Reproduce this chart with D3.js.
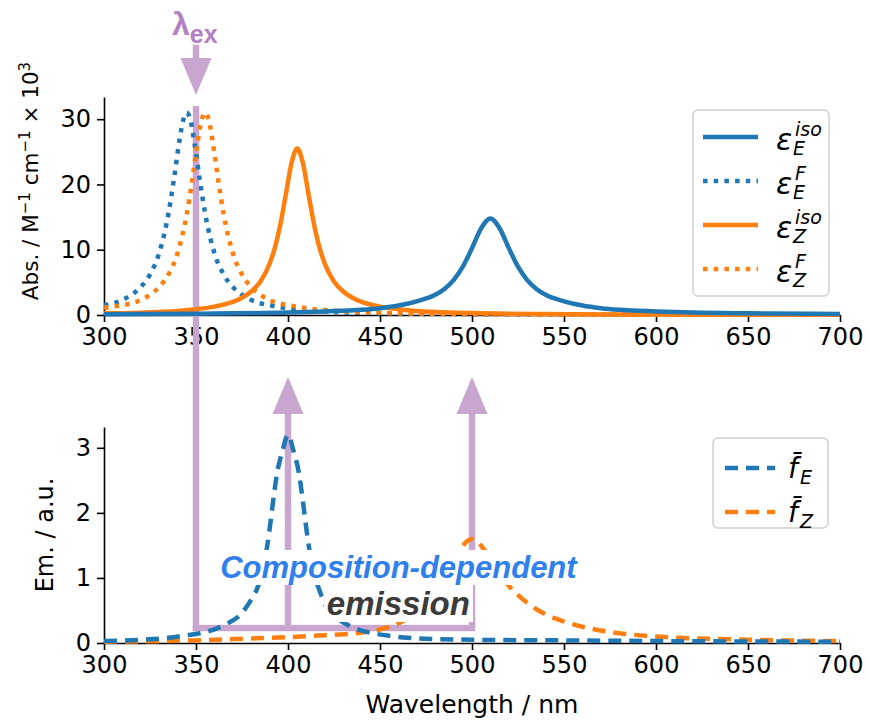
<!DOCTYPE html>
<html lang="en">
<head>
<meta charset="utf-8">
<title>Absorption and emission spectra</title>
<script src="https://d3js.org/d3.v7.min.js"></script>
<style>
    body { margin: 0; background: #fff; }
    svg text { font-family: "DejaVu Sans", sans-serif; fill: #000; }
    .note { font-family: "Liberation Sans", Arial, sans-serif; font-weight: bold; font-style: italic; }
</style>
</head>
<body>
<div id="chart"></div>
<script>
const w = 869;
const h = 721;

// ---- data ----
const xTicks = [300, 350, 400, 450, 500, 550, 600, 650, 700];
const absTicks = [0, 10, 20, 30];
const emTicks = [0, 1, 2, 3];

// absorption (M^-1 cm^-1 x 10^3)
const nmEIso = [300, 350, 400, 420, 440, 450, 460, 470, 480, 485, 490, 495, 500, 505, 510, 515, 520, 525, 530, 535, 540, 550, 560, 570, 580, 600, 620, 650, 700];
const absEIso = [0.12, 0.2, 0.38, 0.55, 0.8, 1.05, 1.45, 2.1, 3.1, 4.0, 5.35, 7.4, 10.25, 13.3, 14.8, 13.3, 10.25, 7.4, 5.35, 4.0, 3.1, 2.1, 1.45, 1.05, 0.8, 0.55, 0.38, 0.26, 0.15];

const nmEF = [300, 305, 310, 315, 320, 325, 330, 335, 338, 341, 343, 345, 347, 349, 352, 355, 360, 365, 370, 375, 380, 385, 390, 400, 420, 450, 500, 550, 600, 700];
const absEF = [1.5, 1.8, 2.3, 3.1, 4.3, 6.2, 9.5, 15.5, 20.8, 26.7, 29.8, 31.0, 29.8, 26.7, 20.8, 15.5, 9.5, 6.2, 4.3, 3.1, 2.3, 1.8, 1.5, 1.0, 0.53, 0.27, 0.13, 0.07, 0.05, 0.02];

const nmZIso = [300, 320, 340, 350, 360, 370, 375, 380, 385, 390, 393, 396, 399, 402, 405, 408, 411, 414, 417, 420, 425, 430, 435, 440, 450, 460, 470, 480, 500, 550, 600, 700];
const absZIso = [0.25, 0.36, 0.62, 0.88, 1.28, 2.0, 2.65, 3.6, 5.15, 7.85, 10.45, 14.1, 18.75, 23.4, 25.5, 23.4, 18.75, 14.1, 10.45, 7.85, 5.15, 3.6, 2.65, 2.0, 1.28, 0.88, 0.62, 0.47, 0.3, 0.13, 0.07, 0.03];

const nmZF = [300, 305, 310, 315, 320, 325, 330, 335, 340, 345, 348, 351, 353, 355, 357, 359, 362, 365, 370, 375, 380, 385, 390, 395, 400, 410, 430, 460, 500, 550, 600, 700];
const absZF = [1.1, 1.3, 1.5, 1.8, 2.3, 3.1, 4.3, 6.2, 9.5, 15.5, 20.8, 26.7, 29.8, 31.0, 29.8, 26.7, 20.8, 15.5, 9.5, 6.2, 4.3, 3.1, 2.3, 1.8, 1.5, 1.05, 0.55, 0.28, 0.15, 0.08, 0.05, 0.03];

// emission (a.u.)
const nmFE = [300, 320, 335, 345, 352, 360, 367, 374, 379, 383, 387, 390, 392, 394, 397, 400, 403, 406, 408, 410, 413, 417, 421, 426, 433, 440, 448, 455, 465, 480, 500, 550, 600, 700];
const emFE = [0.03, 0.05, 0.08, 0.12, 0.15, 0.21, 0.3, 0.43, 0.62, 0.82, 1.2, 1.75, 2.2, 2.6, 2.95, 3.2, 2.95, 2.6, 2.2, 1.75, 1.2, 0.82, 0.55, 0.4, 0.27, 0.19, 0.14, 0.11, 0.08, 0.06, 0.05, 0.04, 0.03, 0.02];

const nmFZ = [300, 350, 380, 400, 420, 440, 450, 460, 470, 480, 487, 493, 500, 507, 513, 520, 530, 540, 550, 560, 580, 600, 650, 700];
const emFZ = [0.02, 0.04, 0.07, 0.09, 0.12, 0.16, 0.21, 0.3, 0.48, 0.8, 1.1, 1.42, 1.6, 1.42, 1.15, 0.88, 0.62, 0.44, 0.33, 0.25, 0.15, 0.1, 0.05, 0.03];

// annotation anchors (data units)
const exNm = 350;
const emNm = [400, 500];

const blue = "#1f77b4";
const orange = "#ff7f0e";
const lilac = "#c9a6cf";

// ---- layout ----
const left = 104, right = 840;
const top1 = 97, bottom1 = 315;
const top2 = 427, bottom2 = 643;

const svg = d3.select("#chart").append("svg")
    .attr("width", w)
    .attr("height", h);

const x = d3.scaleLinear().domain([300, 700]).range([left, right]);
const yAbs = d3.scaleLinear().domain([0, 33.4]).range([bottom1, top1]);
const yEm = d3.scaleLinear().domain([0, 3.32]).range([bottom2, top2]);

function zip(xs, ys) {
    return xs.map((v, i) => [v, ys[i]]);
}

function drawAxes(yScale, yTicks, bottom) {
    const gx = svg.append("g")
        .attr("transform", `translate(0, ${bottom})`)
        .call(d3.axisBottom(x).tickValues(xTicks).tickFormat(d3.format("d"))
            .tickSize(7).tickSizeOuter(0).tickPadding(6));
    const gy = svg.append("g")
        .attr("transform", `translate(${left}, 0)`)
        .call(d3.axisLeft(yScale).tickValues(yTicks).tickFormat(d3.format("d"))
            .tickSize(7).tickSizeOuter(0).tickPadding(6));
    [gx, gy].forEach(g => {
        g.attr("font-family", null).attr("font-size", null);
        g.selectAll("text").style("font-size", "24px").attr("fill", "#000");
        g.selectAll("line").attr("stroke", "#000").attr("stroke-width", 1.6);
        g.select(".domain").attr("stroke", "#000").attr("stroke-width", 1.6);
    });
}

drawAxes(yAbs, absTicks, bottom1);
drawAxes(yEm, emTicks, bottom2);

// axis labels
svg.append("text")
    .attr("x", (left + right) / 2)
    .attr("y", 713)
    .attr("text-anchor", "middle")
    .style("font-size", "25px")
    .text("Wavelength / nm");

const absLabel = svg.append("text")
    .attr("transform", "translate(38, 181) rotate(-90)")
    .attr("text-anchor", "middle")
    .style("font-size", "21.5px");
absLabel.append("tspan").text("Abs. / M");
absLabel.append("tspan").attr("dy", -8).style("font-size", "15px").text("\u22121");
absLabel.append("tspan").attr("dy", 8).text(" cm");
absLabel.append("tspan").attr("dy", -8).style("font-size", "15px").text("\u22121");
absLabel.append("tspan").attr("dy", 8).text(" \u00d7 10");
absLabel.append("tspan").attr("dy", -8).style("font-size", "15px").text("3");

svg.append("text")
    .attr("transform", `translate(53, ${(top2 + bottom2) / 2}) rotate(-90)`)
    .attr("text-anchor", "middle")
    .style("font-size", "24px")
    .text("Em. / a.u.");

// ---- purple excitation / emission arrows (behind curves) ----
const arrows = svg.append("g").attr("fill", lilac).attr("stroke", "none");

function arrow(cx, yTail, yTip) {
    const dir = yTip > yTail ? 1 : -1;
    const headLen = 37, half = 15.5, shaft = 3.2;
    const base = yTip - dir * headLen;
    arrows.append("path").attr("d",
        `M${cx - shaft},${yTail} L${cx + shaft},${yTail} L${cx + shaft},${base} L${cx + half},${base} ` +
        `L${cx},${yTip} L${cx - half},${base} L${cx - shaft},${base} Z`);
}

// lambda_ex arrow pointing down into the top panel
arrow(x(exNm), yAbs(41.4), yAbs(33.7));
// excitation line from top panel down to the connector
const yConn = yEm(0.23);
arrows.append("rect")
    .attr("x", x(exNm) - 3.2).attr("width", 6.4)
    .attr("y", yAbs(32.0)).attr("height", yConn - yAbs(32.0) + 3.2);
arrows.append("rect")
    .attr("x", x(exNm) - 3.2).attr("width", x(emNm[1]) - x(exNm) + 6.4)
    .attr("y", yConn - 3.2).attr("height", 6.4);
emNm.forEach(nm => arrow(x(nm), yConn, yEm(4.09)));

const lam = svg.append("text")
    .attr("class", "note")
    .attr("x", x(exNm) - 24)
    .attr("y", yAbs(42.9))
    .style("font-style", "normal")
    .style("fill", "#b47fc4");
lam.append("tspan").style("font-size", "32px").text("\u03bb");
lam.append("tspan").attr("dy", 8).style("font-size", "25px").text("ex");

// ---- curves ----
function curve(pts, yScale, color, dash) {
    const line = d3.line()
        .x(d => x(d[0]))
        .y(d => yScale(d[1]))
        .curve(d3.curveMonotoneX);
    svg.append("path")
        .datum(pts)
        .attr("fill", "none")
        .attr("stroke", color)
        .attr("stroke-width", 4.5)
        .attr("stroke-dasharray", dash)
        .attr("d", line);
}

const dotted = "4.5 6.2";
const dashed = "13 8";

curve(zip(nmEF, absEF), yAbs, blue, dotted);
curve(zip(nmZF, absZF), yAbs, orange, dotted);
curve(zip(nmZIso, absZIso), yAbs, orange, null);
curve(zip(nmEIso, absEIso), yAbs, blue, null);

curve(zip(nmFZ, emFZ), yEm, orange, dashed);
curve(zip(nmFE, emFE), yEm, blue, dashed);

// ---- annotation text with white boxes ----
function boxedText(str, cx, yv, size, color) {
    const g = svg.append("g");
    const rect = g.append("rect").attr("fill", "#fff");
    const t = g.append("text")
        .attr("class", "note")
        .attr("x", x(cx))
        .attr("y", yEm(yv))
        .attr("text-anchor", "middle")
        .style("font-size", size + "px")
        .style("fill", color)
        .text(str);
    const b = t.node().getBBox();
    rect.attr("x", b.x - 3).attr("y", b.y)
        .attr("width", b.width + 6).attr("height", b.height);
}

boxedText("Composition-dependent", 460, 1.0, 31, "#2f80ed");
boxedText("emission", 460, 0.43, 33, "#3b3b3b");

// ---- legends ----
function legendBox(x0, y0, x1, y1) {
    svg.append("rect")
        .attr("x", x0).attr("y", y0)
        .attr("width", x1 - x0).attr("height", y1 - y0)
        .attr("rx", 5)
        .attr("fill", "#fff").attr("fill-opacity", 0.8)
        .attr("stroke", "#d0d0d0").attr("stroke-width", 1.5);
}

function legendLine(x0, x1, y, color, dash) {
    svg.append("line")
        .attr("x1", x0).attr("x2", x1).attr("y1", y).attr("y2", y)
        .attr("stroke", color).attr("stroke-width", 4.5)
        .attr("stroke-dasharray", dash);
}

const absLegend = [
    { sub: "E", sup: "iso", color: blue, dash: null },
    { sub: "E", sup: "F", color: blue, dash: dotted },
    { sub: "Z", sup: "iso", color: orange, dash: null },
    { sub: "Z", sup: "F", color: orange, dash: dotted }
];

legendBox(693, 110, 829, 296);
absLegend.forEach((d, i) => {
    const y = 137 + i * 44;
    legendLine(703, 758, y, d.color, d.dash);
    svg.append("text").attr("x", 776).attr("y", y + 13)
        .style("font-size", "30px").style("font-style", "italic").text("\u03b5");
    svg.append("text").attr("x", 795).attr("y", y - 1)
        .style("font-size", "19px").style("font-style", "italic").text(d.sup);
    svg.append("text").attr("x", 793).attr("y", y + 18)
        .style("font-size", "19px").style("font-style", "italic").text(d.sub);
});

const emLegend = [
    { sub: "E", color: blue },
    { sub: "Z", color: orange }
];

legendBox(713, 438, 828, 528);
emLegend.forEach((d, i) => {
    const y = 468 + i * 44;
    legendLine(725, 775, y, d.color, dashed);
    svg.append("text").attr("x", 788).attr("y", y + 10)
        .style("font-size", "28px").style("font-style", "italic").text("f\u0304");
    svg.append("text").attr("x", 800).attr("y", y + 16)
        .style("font-size", "19px").style("font-style", "italic").text(d.sub);
});
</script>
</body>
</html>
